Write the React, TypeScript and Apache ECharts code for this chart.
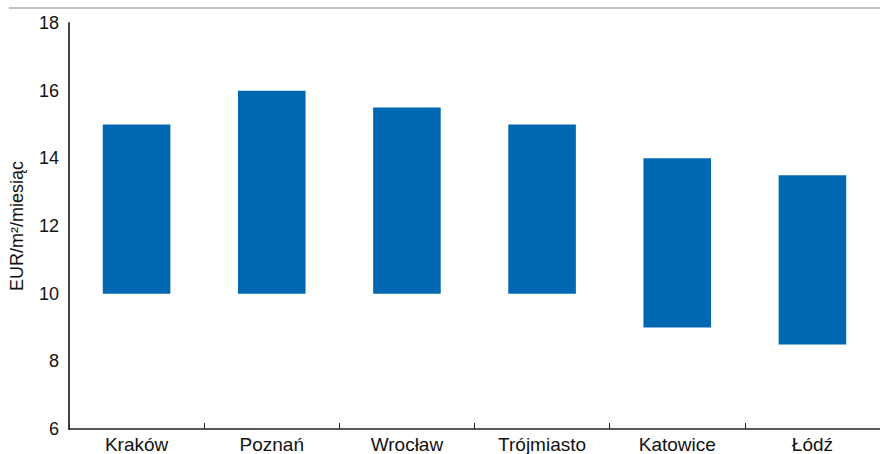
import React, { useEffect, useRef } from "react";
import * as echarts from "echarts";

const categories = ["Kraków", "Poznań", "Wrocław", "Trójmiasto", "Katowice", "Łódź"];
const lowValues = [10, 10, 10, 10, 9, 8.5];
const highValues = [15, 16, 15.5, 15, 14, 13.5];
const yTicks = [6, 8, 10, 12, 14, 16, 18];

export default function App() {
  const ref = useRef<HTMLDivElement>(null);
  useEffect(() => {
    if (!ref.current) return;
    const chart = echarts.init(ref.current, undefined, { renderer: "svg" });
    const font = "'Liberation Sans', Arial, sans-serif";
    chart.setOption({
      animation: false,
      grid: { left: 65, right: -9, top: 23, bottom: 23, containLabel: false },
      graphic: [
        {
          type: "line",
          shape: { x1: 9, y1: 8, x2: 880, y2: 8 },
          style: { stroke: "#b5b1a9", lineWidth: 1.5 },
        },
      ],
      xAxis: {
        type: "category",
        data: categories,
        axisLine: { lineStyle: { color: "#222", width: 1.5 } },
        axisTick: { show: true, inside: true, length: 6, lineStyle: { color: "#222" } },
        axisLabel: { color: "#111", fontSize: 19, fontFamily: font, margin: 6 },
      },
      yAxis: {
        type: "value",
        min: yTicks[0],
        max: yTicks[yTicks.length - 1],
        interval: 2,
        name: "EUR/m²/miesiąc",
        nameLocation: "middle",
        nameGap: 43,
        nameTextStyle: { color: "#111", fontSize: 18, fontFamily: font },
        axisLine: { show: true, lineStyle: { color: "#444", width: 2 } },
        axisTick: { show: false },
        splitLine: { show: false },
        axisLabel: { color: "#111", fontSize: 18, fontFamily: font, margin: 10 },
      },
      series: [
        {
          type: "bar",
          stack: "r",
          data: lowValues,
          itemStyle: { color: "transparent" },
          barWidth: "50%",
          silent: true,
        },
        {
          type: "bar",
          stack: "r",
          data: highValues.map((h, i) => h - lowValues[i]),
          itemStyle: { color: "#0068b3" },
          barWidth: "50%",
        },
      ],
    });
    return () => chart.dispose();
  }, []);
  return <div ref={ref} style={{ width: 880, height: 454, position: "absolute", left: 0, top: 0 }} />;
}
